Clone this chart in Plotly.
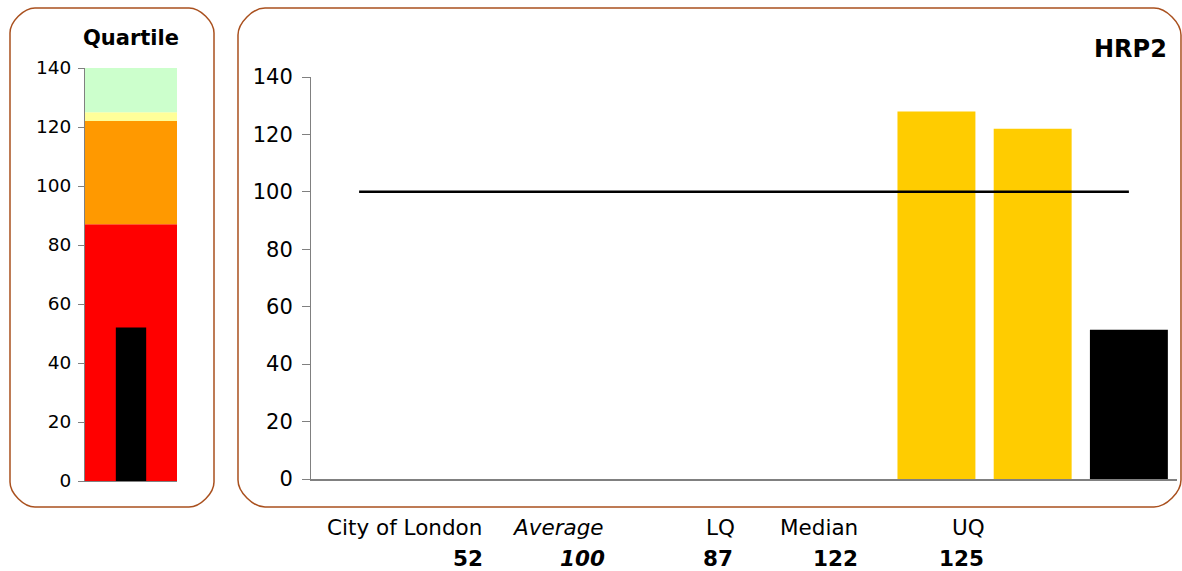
import plotly.graph_objects as go

# ---- data -------------------------------------------------------------
area_name = "City of London"
local_value = 52
average = 100
lq = 87
median = 122
uq = 125
axis_max = 140

# quartile gauge: band tops and fills
band_tops = [lq, median, uq, axis_max]
band_colors = ["#FF0000", "#FF9900", "#FFFF99", "#CCFFCC"]

# main comparison chart (9 slots, only the last three carry bars)
positions = [1, 2, 3, 4, 5, 6, 7, 8, 9]
bar_values = [None, None, None, None, None, None, 128, median, local_value]
bar_colors = ["#FFCC00"] * 8 + ["#000000"]
average_line = [average] * len(positions)

table_labels = [area_name, "Average", "LQ", "Median", "UQ"]
table_values = [local_value, average, lq, median, uq]

# ---- layout helpers ---------------------------------------------------
W, H = 1182, 571
FONT = "Verdana, DejaVu Sans, sans-serif"
BORDER = "#A9501E"
AXIS = "#808080"


def fx(p):
    return p / W


def fy(p):
    return 1 - p / H


def rounded_box(x0, y0, x1, y1, r):
    k = 0.45 * r
    pts = [
        ("M", [(x0 + r, y0)]),
        ("L", [(x1 - r, y0)]),
        ("C", [(x1 - r + k, y0), (x1, y0 + r - k), (x1, y0 + r)]),
        ("L", [(x1, y1 - r)]),
        ("C", [(x1, y1 - r + k), (x1 - r + k, y1), (x1 - r, y1)]),
        ("L", [(x0 + r, y1)]),
        ("C", [(x0 + r - k, y1), (x0, y1 - r + k), (x0, y1 - r)]),
        ("L", [(x0, y0 + r)]),
        ("C", [(x0, y0 + r - k), (x0 + r - k, y0), (x0 + r, y0)]),
    ]
    path = ""
    for cmd, coords in pts:
        path += cmd + " " + " ".join(f"{fx(a):.5f},{fy(b):.5f}" for a, b in coords) + " "
    return dict(type="path", path=path + "Z", xref="paper", yref="paper",
                line=dict(color=BORDER, width=1.5), fillcolor="rgba(0,0,0,0)", layer="below")


fig = go.Figure()

# quartile bands, stacked by base
bottom = 0
for top, color in zip(band_tops, band_colors):
    fig.add_trace(go.Bar(x=[0], y=[top - bottom], base=[bottom], width=[1],
                         marker=dict(color=color, line=dict(width=0)),
                         xaxis="x", yaxis="y", showlegend=False, hoverinfo="skip"))
    bottom = top

# local value marker inside the gauge
fig.add_trace(go.Bar(x=[0], y=[local_value], width=[0.33],
                     marker=dict(color="#000000", line=dict(width=0)),
                     xaxis="x", yaxis="y", showlegend=False))

# main bars
fig.add_trace(go.Bar(x=positions, y=bar_values, width=0.81,
                     marker=dict(color=bar_colors, line=dict(width=0)),
                     xaxis="x2", yaxis="y2", showlegend=False))

# average line
fig.add_trace(go.Scatter(x=positions, y=average_line, mode="lines",
                         line=dict(color="#000000", width=2.5),
                         xaxis="x2", yaxis="y2", showlegend=False))


def note(text, x, y, size, xanchor="center"):
    return dict(text=text, x=fx(x), y=fy(y), xref="paper", yref="paper",
                xanchor=xanchor, yanchor="middle", showarrow=False, borderpad=0,
                font=dict(family=FONT, size=size, color="#000000"))


annotations = [
    note("<b>Quartile</b>", 131, 38, 21),
    note("<b>HRP2</b>", 1168, 49, 24, "right"),
]

label_right = [483, 605, 736, 859, 986]
value_right = [484, 606, 734, 859, 985]
for i, (lab, val) in enumerate(zip(table_labels, table_values)):
    lab_txt = f"<i>{lab}</i>" if lab == "Average" else lab
    val_txt = f"<b><i>{val}</i></b>" if lab == "Average" else f"<b>{val}</b>"
    annotations.append(note(lab_txt, label_right[i], 527, 21.5, "right"))
    annotations.append(note(val_txt, value_right[i], 558, 21.5, "right"))

fig.update_layout(
    width=W, height=H,
    margin=dict(l=0, r=0, t=0, b=0, autoexpand=False),
    paper_bgcolor="#FFFFFF", plot_bgcolor="rgba(0,0,0,0)",
    barmode="overlay",
    showlegend=False,
    font=dict(family=FONT, color="#000000"),
    xaxis=dict(domain=[fx(85), fx(177)], range=[-0.5, 0.5], showticklabels=False,
               showgrid=False, zeroline=False, showline=True, linecolor=AXIS, linewidth=1,
               ticks="", fixedrange=True),
    yaxis=dict(domain=[fy(481), fy(68)], range=[0, axis_max], dtick=20, anchor="x",
               ticks="outside", ticklen=6, tickcolor=AXIS, showline=True, linecolor=AXIS,
               linewidth=1, showgrid=False, zeroline=False, ticklabelstandoff=3,
               tickfont=dict(family=FONT, size=18.5, color="#000000"), fixedrange=True),
    xaxis2=dict(domain=[fx(311), fx(1177)], range=[0.5, 9.5], showticklabels=False,
                showgrid=False, zeroline=False, showline=True, linecolor=AXIS, linewidth=1.5,
                ticks="", anchor="y2", fixedrange=True),
    yaxis2=dict(domain=[fy(479), fy(77)], range=[0, axis_max], dtick=20, anchor="x2",
                ticks="outside", ticklen=8, tickcolor=AXIS, showline=True, linecolor=AXIS,
                linewidth=1, showgrid=False, zeroline=False, ticklabelstandoff=5,
                tickfont=dict(family=FONT, size=21, color="#000000"), fixedrange=True),
    shapes=[rounded_box(10, 8, 214, 507, 25), rounded_box(238, 8, 1181, 507, 27)],
    annotations=annotations,
)

fig.write_html("out.html")
